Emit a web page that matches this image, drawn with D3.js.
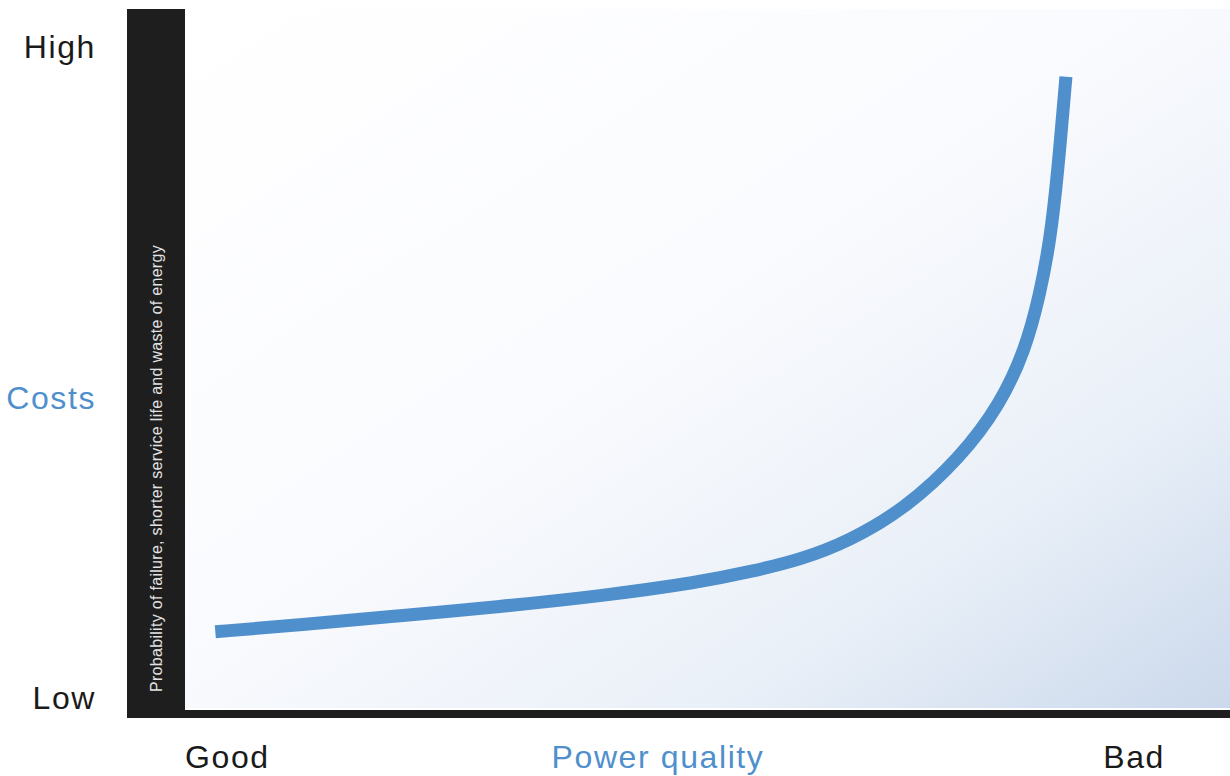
<!DOCTYPE html>
<html><head><meta charset="utf-8">
<script src="https://cdn.jsdelivr.net/npm/d3@7/dist/d3.min.js"></script>
<style>body{margin:0;background:#fff;}svg{display:block;}</style>
</head><body>
<svg id="c" width="1230" height="776"></svg>
<script>
// Data (quality position 0..100 from Good to Bad, cost 0..100 from Low to High)
const quality = [2.9, 11.0, 20.6, 30.1, 39.7, 49.3, 54.1, 58.9, 63.6, 68.9, 74.2, 78.0, 80.4, 81.8, 82.8, 83.5, 84.3];
const cost    = [10.9, 11.9, 13.2, 14.5, 16.0, 18.0, 19.5, 21.2, 23.9, 28.5, 35.8, 43.4, 51.2, 59.1, 67.0, 76.3, 90.3];
const yTickLabels = ["Low", "High"];
const xTickLabels = ["Good", "Bad"];
const yTitle = "Costs";
const xTitle = "Power quality";
const barText = "Probability of failure, shorter service life and waste of energy";

const svg = d3.select("#c");
const font = "'Liberation Sans', Arial, sans-serif";
const blue = "#4f8fcc";
const dark = "#1e1e1e";

const plot = {x0: 185, x1: 1230, y0: 9, y1: 708};
const x = d3.scaleLinear().domain([0, 100]).range([plot.x0, plot.x1]);
const y = d3.scaleLinear().domain([0, 100]).range([plot.y1, plot.y0]);

const defs = svg.append("defs");
const g = defs.append("linearGradient").attr("id", "bg")
  .attr("x1", 0).attr("y1", 0).attr("x2", 1).attr("y2", 1);
g.append("stop").attr("offset", "0").attr("stop-color", "#ffffff");
g.append("stop").attr("offset", "0.45").attr("stop-color", "#fafbfe");
g.append("stop").attr("offset", "0.75").attr("stop-color", "#eaf0f8");
g.append("stop").attr("offset", "1").attr("stop-color", "#cbd9ec");

svg.append("rect").attr("x", plot.x0).attr("y", plot.y0)
  .attr("width", plot.x1 - plot.x0).attr("height", plot.y1 - plot.y0)
  .attr("fill", "url(#bg)");

// axes bars
svg.append("rect").attr("x", 127).attr("y", 9).attr("width", 58).attr("height", 709).attr("fill", dark);
svg.append("rect").attr("x", 127).attr("y", 710).attr("width", 1103).attr("height", 8).attr("fill", dark);

// vertical text in bar
svg.append("text")
  .attr("transform", "translate(162,692) rotate(-90)")
  .attr("font-family", font).attr("font-size", 16).attr("letter-spacing", 0.3)
  .attr("fill", "#e2e2e2")
  .text(barText);

// curve
const pts = quality.map((q, i) => [q, cost[i]]);
const line = d3.line().x(d => x(d[0])).y(d => y(d[1])).curve(d3.curveBasis);
svg.append("path").attr("d", line(pts))
  .attr("fill", "none").attr("stroke", blue).attr("stroke-width", 13);

// y labels
const yl = [{t: yTickLabels[1], yy: 58, c: "#1a1a1a"}, {t: yTitle, yy: 409, c: blue}, {t: yTickLabels[0], yy: 709, c: "#1a1a1a"}];
svg.selectAll("text.yl").data(yl).enter().append("text")
  .attr("x", 96).attr("y", d => d.yy).attr("text-anchor", "end")
  .attr("font-family", font).attr("font-size", 32).attr("letter-spacing", 1.6)
  .attr("fill", d => d.c).text(d => d.t);

// x labels
const xl = [{t: xTickLabels[0], xx: 185, a: "start", c: "#1a1a1a"}, {t: xTitle, xx: 658, a: "middle", c: blue}, {t: xTickLabels[1], xx: 1165, a: "end", c: "#1a1a1a"}];
svg.selectAll("text.xl").data(xl).enter().append("text")
  .attr("x", d => d.xx).attr("y", 768).attr("text-anchor", d => d.a)
  .attr("font-family", font).attr("font-size", 32).attr("letter-spacing", 1.6)
  .attr("fill", d => d.c).text(d => d.t);
</script>
</body></html>
